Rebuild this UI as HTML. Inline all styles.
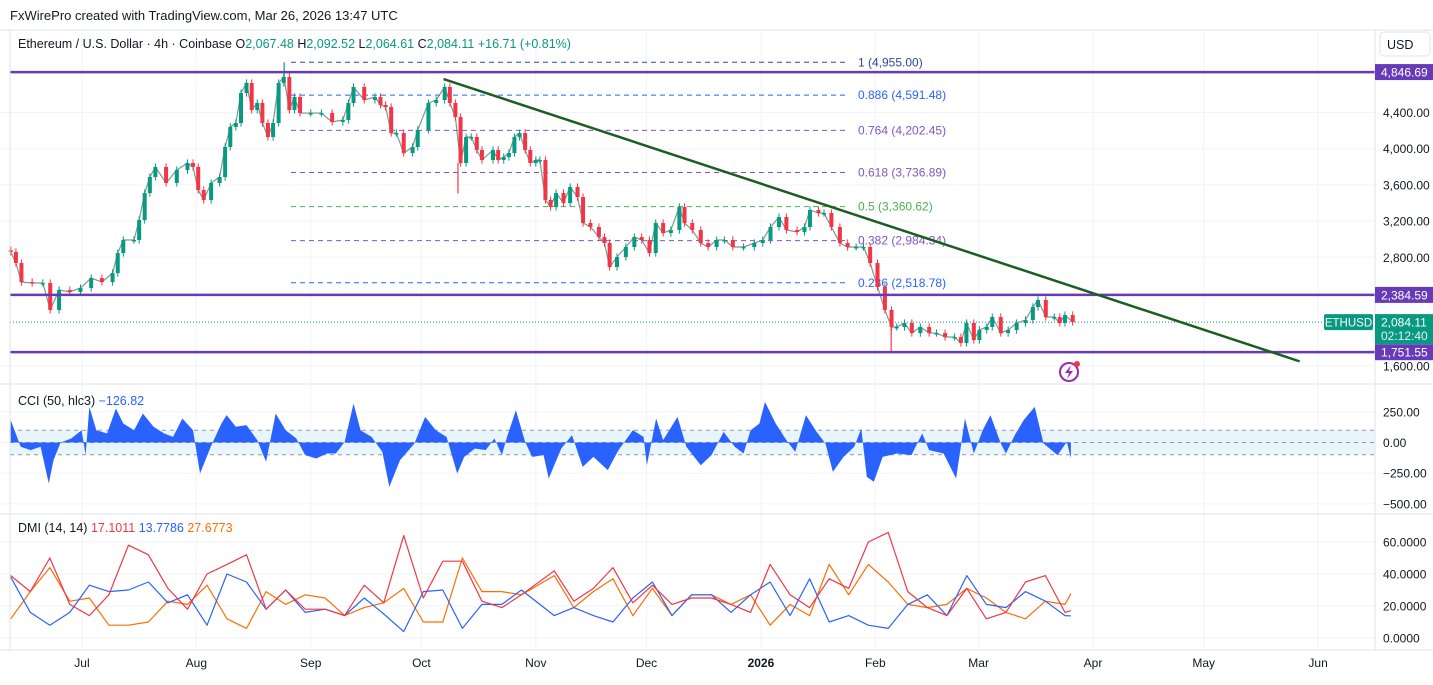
<!DOCTYPE html>
<html><head><meta charset="utf-8"><style>
body{margin:0;background:#fff;font-family:"Liberation Sans",sans-serif;}
svg text{font-family:"Liberation Sans",sans-serif;}
</style></head><body>
<svg id="chart" width="1433" height="680" viewBox="0 0 1433 680" xmlns="http://www.w3.org/2000/svg">
<rect x="0" y="0" width="1433" height="680" fill="#fff"/>
<g id="grid"></g>
<g id="price"></g>
<g id="cci"></g>
<g id="dmi"></g>
<g id="axes"></g>
<text x="10" y="20" font-size="13" fill="#131722">FxWirePro created with TradingView.com, Mar 26, 2026 13:47 UTC</text>
<text x="18" y="48" font-size="12.5" fill="#131722">Ethereum / U.S. Dollar · 4h · Coinbase <tspan fill="#131722">O</tspan><tspan fill="#089981">2,067.48</tspan><tspan fill="#131722">  H</tspan><tspan fill="#089981">2,092.52</tspan><tspan fill="#131722">  L</tspan><tspan fill="#089981">2,064.61</tspan><tspan fill="#131722">  C</tspan><tspan fill="#089981">2,084.11  +16.71 (+0.81%)</tspan></text>
<rect x="1380" y="32" width="50" height="24" rx="4" fill="#fff" stroke="#e0e3eb"/>
<text x="1387" y="49" font-size="12.5" fill="#131722">USD</text>
<text x="18" y="405" font-size="12.5" fill="#131722">CCI (50, hlc3) <tspan fill="#2962ff">−126.82</tspan></text>
<text x="18" y="532" font-size="12.5" fill="#131722">DMI (14, 14) <tspan fill="#f23645">17.1011</tspan> <tspan fill="#2962ff">13.7786</tspan> <tspan fill="#ff6d00">27.6773</tspan></text>
<g>
<circle cx="1069" cy="372" r="9" fill="none" stroke="#9c27b0" stroke-width="2"/>
<path d="M1071 365 L1065 373 L1069 373 L1067 379 L1073 371 L1069 371 Z" fill="#9c27b0"/>
<circle cx="1077" cy="364" r="3" fill="#f23645"/>
</g>
</svg>
<script>
// ---- data ----
const priceDays=[0.2,1.6,3.1,6.0,8.9,10.9,13.3,16.2,19.1,22.0,24.9,27.8,29.2,30.7,33.6,35.0,36.5,37.9,39.4,42.3,45.2,48.1,49.6,51.0,52.5,54.5,56.8,58.3,59.7,61.2,62.6,64.1,65.5,67.0,68.4,69.9,71.3,72.8,74.2,75.7,77.1,78.6,81.5,84.4,87.3,90.2,91.7,93.1,96.0,98.9,100.4,101.8,103.3,104.7,106.7,109.1,110.5,113.4,115.5,117.8,119.2,120.7,122.1,123.6,125.0,126.5,127.9,130.9,132.3,133.8,135.2,136.7,138.1,139.6,141.0,142.5,
143.6,145.1,146.5,148.0,150.0,151.8,153.8,155.3,157.3,159.6,161.1,162.5,164.5,166.9,169.2,171.2,173.3,175.0,177.0,179.1,181.4,182.8,184.9,187.2,189.2,191.5,193.6,195.9,198.8,201.7,204.0,206.1,208.4,210.4,213.3,215.3,216.8,219.1,220.6,222.6,224.9,227.0,229.3,231.3,233.1,235.1,237.1,238.9,240.3,242.4,244.4,246.7,249.1,251.1,253.4,256.0,257.7,259.2,261.2,262.7,264.7,266.2,268.5,270.5,272.8,275.2,277.2,278.6,280.7,283.0,284.5,285.9,288.0];
const closes=[2859,2737,2527,2516,2516,2218,2439,2417,2461,2571,2527,2626,2847,2991,2991,3212,3510,3687,3798,3621,3765,3842,3798,3544,3433,3621,3687,4019,4240,4284,4615,4726,4428,4505,4284,4129,4284,4726,4792,4428,4571,4394,4394,4394,4295,4317,4505,4682,4538,4571,4483,4461,4173,4173,3952,4019,4207,4505,4538,4682,4505,4350,3842,4129,4129,3986,3875,3986,3875,3908,3952,4129,4173,3986,3842,3875,
3875,3433,3356,3510,3400,3577,3466,3179,3135,3024,2958,2693,2803,2914,3024,2991,2847,3179,3068,3102,3356,3179,3102,2958,2914,2991,2991,2914,2914,2958,2991,3135,3245,3102,3080,3135,3323,3289,3289,3135,2958,2914,2914,2914,2737,2472,2218,2030,2030,2074,1963,2030,1963,1963,1919,1919,1853,2074,1886,1997,2030,2140,1963,1997,2074,2107,2251,2328,2140,2140,2074,2162,2084.11];
const spikeDays=[74.3,121.4,238.8];
const spikePrices=[4955,3505,1751.55];
const priceTicks=[4400,4000,3600,3200,2800,1600];
const levelPrices=[4846.69,2384.59,1751.55];
const levelLabels=["4,846.69","2,384.59","1,751.55"];
const fibRatios=["1","0.886","0.764","0.618","0.5","0.382","0.236"];
const fibPrices=[4955.00,4591.48,4202.45,3736.89,3360.62,2984.34,2518.78];
const fibLabels=["4,955.00","4,591.48","4,202.45","3,736.89","3,360.62","2,984.34","2,518.78"];
const fibColors=["#2c4a9e","#2962ff","#7e57c2","#7e57c2","#4caf50","#7e57c2","#2962ff"];
const trendDays=[117.5,349.5];
const trendPrices=[4770,1650];
const lastPrice=2084.11;
const cciDays=[0.2,2.9,5.6,8.3,10.5,11.8,13.7,16.6,19.4,20.5,21.5,23.4,26.3,28.7,30.7,33.6,36.0,38.9,41.8,44.2,46.7,49.6,51.5,54.4,57.3,58.7,61.2,64.1,67.0,69.4,72.0,74.7,77.6,80.0,83.0,85.9,88.3,90.7,93.1,95.0,98.0,100.9,102.8,105.7,109.6,112.5,115.4,118.3,121.2,123.1,126.0,128.9,131.3,133.3,134.7,137.1,139.6,141.5,
144.6,146.0,149.4,152.3,155.2,158.1,162.0,164.9,168.8,171.7,172.6,175.1,177.0,180.9,183.3,187.2,190.1,193.4,196.4,198.8,200.7,203.1,204.6,207.5,210.4,212.8,215.7,218.6,221.0,223.0,225.9,228.8,230.7,232.2,234.1,236.5,240.4,244.3,247.2,249.1,253.0,256.4,258.8,261.2,263.6,265.7,268.5,269.9,272.3,274.7,277.7,280.1,283.9,286.4,287.5];
const cciValues=[182,-35,-62,-35,-334,-144,0,33,100,-103,290,100,73,277,155,100,236,128,73,46,195,100,-252,-35,155,223,128,141,19,-157,236,100,33,-103,-130,-90,-90,5,318,100,46,-76,-361,-144,-8,209,100,46,-252,-117,-49,-62,33,-103,46,263,5,-117,
-103,-293,-49,60,-198,-117,-225,-62,100,46,-185,195,19,209,-35,-185,-103,87,-35,-90,100,155,331,155,19,-76,223,87,-8,-239,-117,-35,114,-280,-320,-117,-90,-103,73,-62,-90,-293,195,-90,100,223,-8,-90,60,182,290,-8,-103,5,-126.82];
const cciTicks=[250,0,-250,-500];
const cciTickLabels=["250.00","0.00","−250.00","−500.00"];
const dmiDays=[0.2,5.5,10.8,16.2,21.5,26.8,32.1,37.5,42.8,48.1,53.4,58.8,64.1,69.4,74.7,80.0,85.4,90.7,96.0,101.3,106.7,112.0,117.3,122.6,127.9,133.3,138.6,147.5,152.8,158.1,163.4,168.8,174.1,179.4,184.7,190.1,195.4,200.7,206.0,211.4,216.7,222.0,227.3,232.6,238.0,243.3,248.6,253.9,259.3,264.6,269.9,275.2,280.6,285.9,287.5];
const adxValues=[39,29,50,21,14,27,58,52,31,18,40,46,52,18,30,18,18,14,33,22,64,25,48,48,23,19,27,42,23,31,44,22,33,21,25,25,21,16,46,27,19,37,31,60,66,29,19,14,31,12,16,35,39,16,17.1];
const plusDiValues=[38,16,8,16,33,29,30,35,22,27,8,40,35,18,30,16,18,14,25,15,4,29,30,6,21,21,30,14,19,14,10,25,35,14,27,27,16,27,35,14,37,10,14,8,6,21,27,14,39,21,19,29,23,14,13.8];
const minusDiValues=[12,29,44,23,25,8,8,10,23,21,33,12,6,29,21,27,25,14,19,22,31,10,10,50,29,29,27,39,19,29,37,14,31,14,27,27,21,27,8,21,14,46,27,46,35,21,19,21,31,25,16,12,23,21,27.7];
const dmiTicks=[60,40,20,0];
const dmiTickLabels=["60.0000","40.0000","20.0000","0.0000"];
const monthLabels=["Jul","Aug","Sep","Oct","Nov","Dec","2026","Feb","Mar","Apr","May","Jun"];
const monthDays=[19.5,50.5,81.5,111.5,142.5,172.5,203.5,234.5,262.5,293.5,323.5,354.5];

// ---- scales ----
const X0=10, PX_PER_DAY=3.69, RIGHT=1375;
const xS=d=>X0+d*PX_PER_DAY;
const yP=p=>112.5+(4400-p)*0.0905;
const yC=v=>442.5-v*0.1228;
const yD=v=>638-v*1.6;
const NS="http://www.w3.org/2000/svg";
function mk(parent,tag,attrs){const e=document.createElementNS(NS,tag);for(const k in attrs)e.setAttribute(k,attrs[k]);parent.appendChild(e);return e;}
const grid=document.getElementById('grid'),price=document.getElementById('price'),cci=document.getElementById('cci'),dmi=document.getElementById('dmi'),axes=document.getElementById('axes');

// grid
monthDays.forEach(d=>{const l=mk(grid,'line',{x1:xS(d),x2:xS(d),y1:30,y2:650,stroke:'#f0f3fa'});

});
priceTicks.forEach(p=>{const l=mk(grid,'line',{x1:0,x2:RIGHT,y1:yP(p),y2:yP(p),stroke:'#f0f3fa'});

});
cciTicks.forEach(v=>{const l=mk(grid,'line',{x1:0,x2:RIGHT,y1:yC(v),y2:yC(v),stroke:'#f0f3fa'});

});
dmiTicks.forEach(v=>{const l=mk(grid,'line',{x1:0,x2:RIGHT,y1:yD(v),y2:yD(v),stroke:'#f0f3fa'});

});

// pane borders
[[0,30,1433,30],[0,384,1433,384],[0,514,1433,514],[0,650,1433,650],[RIGHT,30,RIGHT,650],[10,30,10,650]].forEach(a=>{const l=mk(axes,'line',{x1:a[0],y1:a[1],x2:a[2],y2:a[3],stroke:'#e0e3eb'});

});

// fib levels
fibPrices.forEach((p,i)=>{const y=yP(p);
const l=mk(price,'line',{x1:291,x2:848,y1:y,y2:y,stroke:fibColors[i],'stroke-dasharray':'5,4','stroke-width':1});


const t=mk(price,'text',{x:858,y:y+4,'font-size':12,fill:fibColors[i]});t.textContent=fibRatios[i]+' ('+fibLabels[i]+')';

});

// last price dotted line
const lp=mk(price,'line',{x1:10,x2:RIGHT,y1:yP(lastPrice),y2:yP(lastPrice),stroke:'#089981','stroke-dasharray':'1,2'});



// connecting path between candles (dense look)
const cp=mk(price,'polyline',{points:priceDays.map((d,i)=>xS(d)+','+yP(closes[i])).join(' '),fill:'none',stroke:'#5d7f78','stroke-width':1.2,opacity:0.8});



// candles
for(let i=0;i<closes.length;i++){
 const c=closes[i],o=i>0?closes[i-1]:c+20,up=c>=o,col=up?'#089981':'#f23645',x=xS(priceDays[i]);
 const hi=Math.max(o,c)+40,lo=Math.min(o,c)-40;
 const w=mk(price,'line',{x1:x,x2:x,y1:yP(hi),y2:yP(lo),stroke:col,'stroke-width':1});
 
 
 const yt=yP(Math.max(o,c)),yb=yP(Math.min(o,c));
 const b=mk(price,'rect',{x:x-2,y:yt,width:4,height:Math.max(1.5,yb-yt),fill:col});
 
 
}
spikeDays.forEach((d,i)=>{let k=0;priceDays.forEach((pd,j)=>{if(Math.abs(pd-d)<Math.abs(priceDays[k]-d))k=j;});
 const l=mk(price,'line',{x1:xS(d),x2:xS(d),y1:yP(spikePrices[i]),y2:yP(closes[k]),stroke:spikePrices[i]>closes[k]?'#089981':'#f23645','stroke-width':1.2});
 
 });

// horizontal levels
levelPrices.forEach((p,i)=>{const y=yP(p);
 const l=mk(price,'line',{x1:10,x2:RIGHT,y1:y,y2:y,stroke:'#673ab7','stroke-width':2.5});
 
 
 const r=mk(axes,'rect',{x:RIGHT,y:y-8,width:58,height:16,fill:'#673ab7'});
 
 
 const t=mk(axes,'text',{x:1381,y:y+4.5,'font-size':12,fill:'#fff'});t.textContent=levelLabels[i];
 
 });

// trend line
const tl=mk(price,'line',{x1:xS(trendDays[0]),y1:yP(trendPrices[0]),x2:xS(trendDays[1]),y2:yP(trendPrices[1]),stroke:'#1b5e20','stroke-width':2.5});



// price axis labels
priceTicks.forEach(p=>{const t=mk(axes,'text',{x:1383,y:yP(p)+4.5,'font-size':12,fill:'#131722'});t.textContent=p.toLocaleString('en-US')+'.00';

});
// last price tags
const ly=yP(lastPrice);
const eb=mk(axes,'rect',{x:1324,y:ly-8,width:49,height:16,rx:2,fill:'#089981'});


const et=mk(axes,'text',{x:1348.5,y:ly+4.5,'font-size':11.5,fill:'#fff','text-anchor':'middle'});et.textContent='ETHUSD';


const pb=mk(axes,'rect',{x:RIGHT,y:ly-8,width:58,height:30,fill:'#089981'});


const pt=mk(axes,'text',{x:1381,y:ly+4.5,'font-size':12,fill:'#fff'});pt.textContent='2,084.11';


const ct=mk(axes,'text',{x:1381,y:ly+18,'font-size':12,fill:'#e0f2f1'});ct.textContent='02:12:40';



// CCI
const band=mk(cci,'rect',{x:10,y:yC(100),width:RIGHT-10,height:yC(-100)-yC(100),fill:'#e3f2fd',opacity:0.8});


[100,0,-100].forEach(v=>{const l=mk(cci,'line',{x1:10,x2:RIGHT,y1:yC(v),y2:yC(v),stroke:'#9598a1','stroke-dasharray':'4,4'});

});
let pts=xS(cciDays[0])+','+yC(0);
cciDays.forEach((d,i)=>{pts+=' '+xS(d)+','+yC(cciValues[i]);});
pts+=' '+xS(cciDays[cciDays.length-1])+','+yC(0);
const ca=mk(cci,'polygon',{points:pts,fill:'#2962ff'});


cciTicks.forEach((v,i)=>{const t=mk(axes,'text',{x:1383,y:yC(v)+4.5,'font-size':12,fill:'#131722'});t.textContent=cciTickLabels[i];

});

// DMI
function dline(vals,col,name){const p=dmiDays.map((d,i)=>xS(d)+','+yD(vals[i])).join(' ');
 const l=mk(dmi,'polyline',{points:p,fill:'none',stroke:col,'stroke-width':1.2,'stroke-linejoin':'round'});
 
 }
dline(minusDiValues,'#ff6d00','minus-di-line');
dline(plusDiValues,'#2962ff','plus-di-line');
dline(adxValues,'#f23645','adx-line');
dmiTicks.forEach((v,i)=>{const t=mk(axes,'text',{x:1383,y:yD(v)+4.5,'font-size':12,fill:'#131722'});t.textContent=dmiTickLabels[i];

});

// time axis
monthLabels.forEach((m,i)=>{const t=mk(axes,'text',{x:xS(monthDays[i]),y:667,'font-size':12,fill:'#131722','text-anchor':'middle','font-weight':m==='2026'?'bold':'normal'});t.textContent=m;

});
</script>
</body></html>
